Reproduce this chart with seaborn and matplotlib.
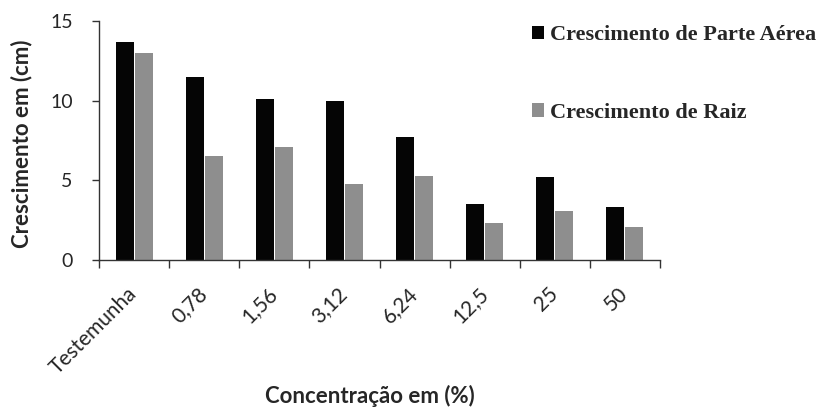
import pandas as pd
import matplotlib
matplotlib.use('Agg')
import matplotlib.pyplot as plt
import seaborn as sns
from matplotlib.ticker import FixedLocator

# Données
concentracoes = ['Testemunha', '0,78', '1,56', '3,12', '6,24', '12,5', '25', '50']
parte_aerea = [13.7, 11.5, 10.1, 9.95, 7.7, 3.5, 5.2, 3.3]
raiz = [13.0, 6.5, 7.1, 4.8, 5.25, 2.3, 3.1, 2.1]
series = ['Crescimento de Parte Aérea', 'Crescimento de Raiz']
cores = ['#050505', '#8e8e8e']

df = pd.DataFrame({
    'concentracao': concentracoes * 2,
    'valor': parte_aerea + raiz,
    'serie': [series[0]] * len(concentracoes) + [series[1]] * len(concentracoes),
})

sns.set_style('ticks')
plt.rcParams['font.family'] = ['Lato', 'DejaVu Sans']

fig = plt.figure(figsize=(8.17, 4.08), dpi=100)
ax = fig.add_axes([99 / 817, 1 - 260 / 408, 561 / 817, 239 / 408])

sns.barplot(data=df, x='concentracao', y='valor', hue='serie', order=concentracoes,
            hue_order=series, palette=cores, width=0.54, gap=0.05,
            saturation=1, linewidth=0, ax=ax)

ax.set_xlim(-0.5, len(concentracoes) - 0.5)
ax.set_ylim(0, 15)
ax.set_yticks([0, 5, 10, 15])
sns.despine(ax=ax)
for s in ['left', 'bottom']:
    ax.spines[s].set_color('#333333')
    ax.spines[s].set_linewidth(1.0)

# ticks x : traits entre les catégories, étiquettes au centre
ax.xaxis.set_minor_locator(FixedLocator([i - 0.5 for i in range(len(concentracoes) + 1)]))
ax.tick_params(axis='x', which='major', length=0, pad=22)
ax.tick_params(axis='x', which='minor', length=6, width=1, color='#333333')
ax.tick_params(axis='y', length=5, width=1, color='#333333', pad=14, labelsize=14)
ax.set_xticks(range(len(concentracoes)))
ax.set_xticklabels(concentracoes, rotation=45, ha='right', va='center',
                   rotation_mode='anchor', fontsize=15)

ax.set_xlabel('Concentração em (%)', fontsize=16, fontweight='bold')
ax.set_ylabel('Crescimento em (cm)', fontsize=16, fontweight='bold')
ax.xaxis.set_label_coords(0.483, -0.523)
ax.yaxis.set_label_coords(-0.118, 0.487)

handles, labels = ax.get_legend_handles_labels()
ax.legend(handles, labels, loc='upper left', bbox_to_anchor=(521 / 817, 1 - 14 / 408),
          bbox_transform=fig.transFigure, frameon=False, borderpad=0,
          handlelength=0.55, handleheight=0.55, handletextpad=0.25, labelspacing=2.6,
          prop={'family': 'Liberation Serif', 'weight': 'bold', 'size': 16})

fig.savefig('out.png', dpi=100)
